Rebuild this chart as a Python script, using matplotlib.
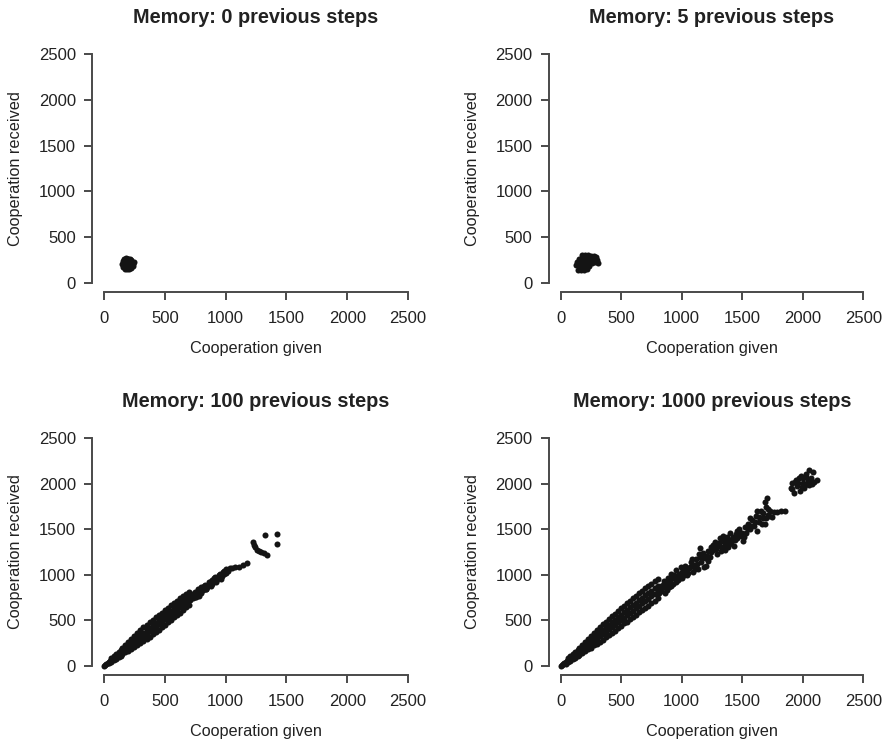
import matplotlib
matplotlib.use('Agg')
import matplotlib.pyplot as plt
import numpy as np

# scatter of cooperation given vs received, for 4 memory lengths

plt.rcParams['font.family'] = ['Liberation Sans', 'DejaVu Sans']

titles = ['Memory: 0 previous steps', 'Memory: 5 previous steps',
          'Memory: 100 previous steps', 'Memory: 1000 previous steps']
ticks = [0, 500, 1000, 1500, 2000, 2500]

# ---- memory 0 : one tight blob
mem0_given = [150, 165, 180, 195, 210, 225, 240, 155, 170, 185, 200, 215, 230, 245,
              160, 175, 190, 205, 220, 235, 165, 180, 195, 210, 225, 175, 190, 205, 220, 185, 200]
mem0_recv = [205, 200, 210, 205, 200, 210, 205, 235, 240, 230, 240, 235, 230, 225,
             175, 170, 180, 175, 170, 180, 255, 260, 255, 260, 250, 150, 155, 150, 160, 268, 265]

# ---- memory 5 : slightly bigger blob
mem5_given = [175, 200, 225, 250, 275, 295, 150, 175, 200, 225, 250, 275, 300,
              135, 160, 185, 210, 235, 260, 285, 305, 130, 155, 180, 205, 230, 140, 165, 190, 215]
mem5_recv = [300, 305, 300, 295, 290, 285, 265, 270, 260, 265, 260, 255, 250,
             230, 225, 230, 220, 225, 215, 225, 220, 190, 185, 190, 180, 185, 145, 140, 135, 150]

# ---- memory 100
tip100_given = [0, 10, 20, 30, 40, 50, 60, 70, 80, 90, 100, 110, 120, 130, 140,
                40, 60, 80, 100, 120, 140, 60, 80, 100, 120, 140]
tip100_recv = [0, 10, 22, 32, 42, 54, 64, 75, 86, 96, 106, 118, 128, 138, 150,
               25, 40, 58, 75, 92, 110, 85, 105, 128, 150, 172]
band100_given = [150, 175, 200, 225, 250, 275, 300, 325, 350, 375, 400, 425,
                 450, 475, 500, 525, 550, 575, 600, 625, 650, 675, 700]
band100_lo = [125, 146, 166, 185, 205, 228, 248, 272, 294, 320, 344, 370,
              394, 424, 446, 476, 500, 530, 552, 584, 610, 640, 668]
band100_mid1 = [150, 174, 198, 224, 248, 274, 298, 325, 350, 377, 402, 428,
                455, 482, 508, 535, 560, 588, 614, 642, 667, 694, 720]
band100_mid2 = [170, 198, 226, 254, 282, 310, 338, 364, 392, 418, 446, 472,
                500, 526, 552, 578, 606, 632, 658, 684, 710, 738, 764]
band100_hi = [195, 228, 260, 296, 328, 360, 390, 420, 450, 476, 504, 532,
              560, 584, 612, 636, 664, 690, 716, 740, 766, 790, 815]
tail100_given = [720, 735, 750, 760, 775, 790, 800, 815, 830, 845, 860, 870, 885, 900,
                 915, 930, 945, 960, 975, 990, 1005, 1020, 1035, 1050,
                 760, 800, 840, 880, 920, 960,
                 710, 730, 745, 770, 785, 805, 820, 835, 855, 875, 890, 905, 925, 940,
                 955, 970, 985, 1000,
                 1077, 1113, 1146, 1173,
                 1228, 1236, 1245, 1258, 1275, 1295, 1315, 1338,
                 1324, 1425, 1425]
tail100_recv = [770, 740, 805, 775, 840, 800, 860, 835, 890, 860, 915, 885, 945, 925,
                975, 950, 1000, 975, 1030, 1010, 1060, 1040, 1075, 1070,
                755, 800, 840, 880, 915, 955,
                720, 790, 760, 810, 770, 830, 880, 845, 890, 920, 900, 960, 930, 975,
                1010, 990, 1040, 1020,
                1089, 1089, 1107, 1126,
                1363, 1330, 1300, 1275, 1258, 1245, 1235, 1220,
                1436, 1447, 1338]

# ---- memory 1000
tip1000_given = [0, 10, 20, 30, 40, 50, 60, 70, 80, 90, 100, 110, 120, 130, 140,
                 40, 60, 80, 100, 120, 140, 60, 80, 100, 120, 140]
tip1000_recv = [0, 12, 22, 34, 44, 55, 66, 76, 88, 98, 110, 120, 130, 142, 152,
                22, 38, 55, 72, 90, 108, 88, 110, 132, 155, 178]
band1000_given = [150, 175, 200, 225, 250, 275, 300, 325, 350, 375, 400, 425, 450, 475,
                  500, 525, 550, 575, 600, 625, 650, 675, 700, 725, 750, 775, 800]
band1000_lo = [120, 142, 160, 182, 198, 224, 242, 266, 288, 318, 338, 358, 386, 414,
               432, 464, 484, 508, 534, 556, 586, 608, 636, 660, 690, 716, 748]
band1000_mid1 = [146, 172, 196, 222, 246, 272, 296, 322, 347, 374, 400, 424, 452, 478,
                 502, 528, 554, 580, 606, 632, 660, 686, 712, 738, 765, 792, 818]
band1000_mid2 = [172, 200, 228, 256, 284, 312, 340, 368, 394, 422, 448, 478, 502, 530,
                 558, 586, 612, 640, 666, 694, 718, 746, 772, 800, 826, 852, 878]
band1000_hi = [200, 232, 264, 298, 332, 362, 396, 424, 456, 484, 510, 546, 570, 600,
               630, 656, 686, 712, 740, 770, 796, 826, 850, 878, 902, 930, 958]
tail1000_given = [815, 825, 840, 850, 860, 870, 885, 895, 905, 915, 930, 940, 955, 965,
                  980, 990, 1000, 1015, 1030, 1045, 1060, 1075, 1090, 1100, 1120, 1135,
                  1150, 1150, 1160, 1175, 1190, 1200, 1215, 1230, 1245, 1260, 1275, 1290,
                  1300, 1315, 1330, 1345, 1360, 1375, 1390, 1400, 1415, 1430, 1445, 1460,
                  1475, 1490, 1505, 1520, 1535, 1550, 1565, 1580, 1595, 1610, 1625, 1640,
                  1655, 1670, 1685, 1700, 1715, 1730, 1745, 1760, 1790, 1820, 1850, 1690, 1705,
                  810, 830, 845, 865, 880, 890, 910, 925, 935, 950, 970, 985, 1005, 1020,
                  1040, 1055, 1070, 1085, 1110, 1125, 1140, 1165, 1180, 1205, 1220, 1240,
                  1255, 1270, 1285, 1310, 1325, 1340, 1355, 1370, 1385, 1410, 1425, 1440,
                  1455, 1470, 1500, 1515, 1545, 1560, 1575, 1605, 1620, 1635, 1660, 1675,
                  1695, 1710, 1725]
tail1000_recv = [800, 880, 850, 930, 800, 900, 960, 860, 940, 1010, 900, 980, 1050, 940,
                 1010, 1090, 960, 1040, 1100, 1000, 1070, 1140, 1030, 1110, 1170, 1060,
                 1200, 1290, 1140, 1240, 1180, 1100, 1260, 1200, 1310, 1270, 1360, 1230,
                 1320, 1400, 1300, 1370, 1270, 1420, 1340, 1460, 1390, 1320, 1450, 1400,
                 1500, 1430, 1370, 1520, 1460, 1560, 1500, 1600, 1540, 1650, 1480, 1580,
                 1700, 1620, 1560, 1750, 1660, 1700, 1640, 1690, 1690, 1700, 1705, 1800, 1840,
                 850, 820, 890, 860, 830, 920, 880, 960, 1000, 920, 990, 960, 1030, 1000,
                 1060, 1020, 1090, 1170, 1060, 1120, 1230, 1180, 1080, 1210, 1150, 1250,
                 1330, 1300, 1280, 1350, 1260, 1430, 1330, 1380, 1300, 1350, 1420, 1380,
                 1480, 1440, 1460, 1420, 1500, 1620, 1540, 1580, 1700, 1640, 1560, 1680,
                 1620, 1720, 1650]
cluster1000_given = [1900, 1915, 1930, 1945, 1955, 1975, 1985, 2000, 2010, 2025, 2040, 2055,
                     2065, 2085, 2095, 2115, 1935, 1965, 2020, 2050, 1915, 2080, 1960, 2000,
                     2030, 1990, 2070]
cluster1000_recv = [1950, 2005, 1900, 2045, 1975, 1920, 2085, 2010, 1950, 2105, 2035, 1985,
                    2065, 2125, 2015, 2045, 2015, 2060, 1990, 2150, 1940, 2000, 2010, 2060,
                    2070, 1960, 2030]

def band(xs, *rows):
    # put several rows of y values on the same x positions
    gx, gy = [], []
    for r in rows:
        gx += xs
        gy += r
    return gx, gy

b100x, b100y = band(band100_given, band100_lo, band100_mid1, band100_mid2, band100_hi)
b1000x, b1000y = band(band1000_given, band1000_lo, band1000_mid1, band1000_mid2, band1000_hi)

panels = [
    (mem0_given, mem0_recv),
    (mem5_given, mem5_recv),
    (tip100_given + b100x + tail100_given, tip100_recv + b100y + tail100_recv),
    (tip1000_given + b1000x + tail1000_given + cluster1000_given,
     tip1000_recv + b1000y + tail1000_recv + cluster1000_recv),
]

W, H = 887, 743
# plot boxes in pixels (left, top, right, bottom)
boxes = [(91.8, 45.1, 420.2, 291.9), (548.6, 45.1, 875.4, 291.9),
         (91.8, 429.2, 420.2, 674.8), (548.6, 429.2, 875.4, 674.8)]

fig = plt.figure(figsize=(W / 100, H / 100), dpi=100)
axcol = '#4a4a4a'
txtcol = '#222222'

for (l, t, r, b), (gx, gy), title in zip(boxes, panels, titles):
    ax = fig.add_axes([l / W, 1 - b / H, (r - l) / W, (b - t) / H])
    ax.scatter(gx, gy, s=19, color='#141414', linewidths=0)
    ax.set_xlim(-100, 2600)
    ax.set_ylim(-100, 2600)
    for s in ['top', 'right']:
        ax.spines[s].set_visible(False)
    for s in ['left', 'bottom']:
        ax.spines[s].set_bounds(0, 2500)
        ax.spines[s].set_color(axcol)
        ax.spines[s].set_linewidth(1.4)
    ax.set_xticks(ticks)
    ax.set_yticks(ticks)
    ax.tick_params(axis='both', length=5.5, width=1.4, color=axcol,
                   labelsize=12, labelcolor=txtcol)
    ax.tick_params(axis='x', pad=8)
    ax.tick_params(axis='y', pad=6)
    ax.set_title(title, fontsize=14.3, fontweight='bold', color=txtcol, pad=16)
    ax.set_xlabel('Cooperation given', fontsize=11.7, color=txtcol, va='center')
    ax.set_ylabel('Cooperation received', fontsize=11.7, color=txtcol, va='center')
    ax.xaxis.set_label_coords(0.5, -56.5 / (b - t))
    ax.yaxis.set_label_coords(-76.0 / (r - l), 0.5)

fig.savefig('out.png', dpi=100)
